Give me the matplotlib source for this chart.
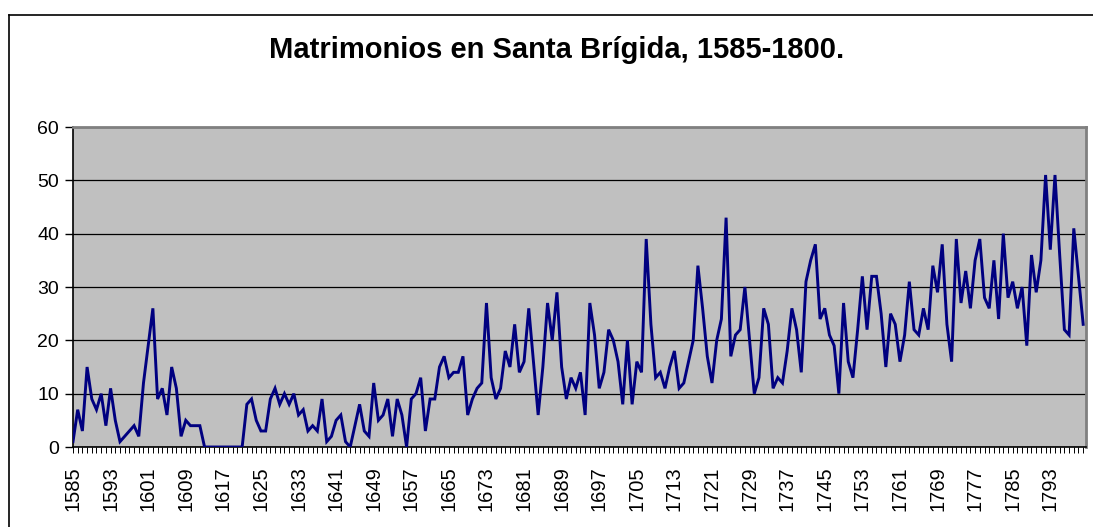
import matplotlib
matplotlib.use("Agg")
import matplotlib.pyplot as plt
from matplotlib.lines import Line2D

plt.rcParams['font.family'] = ['Liberation Sans', 'DejaVu Sans']

title = "Matrimonios en Santa Brígida, 1585-1800."
years = list(range(1585, 1801))
marriages = [
    1, 7, 3, 15, 9, 7, 10, 4, 11, 5,
    1, 2, 3, 4, 2, 12, 19, 26, 9, 11,
    6, 15, 11, 2, 5, 4, 4, 4, 0, 0,
    0, 0, 0, 0, 0, 0, 0,
    8, 9, 5, 3, 3, 9, 11, 8, 10, 8,
    10, 6, 7, 3, 4, 3, 9, 1, 2, 5,
    6, 1, 0, 4, 8, 3, 2, 12, 5, 6,
    9, 2, 9, 6, 0,
    9, 10, 13, 3, 9, 9, 15, 17, 13, 14,
    14, 17, 6, 9, 11, 12, 27, 13, 9, 11,
    18, 15, 23, 14, 16, 26, 16, 6, 15, 27,
    20, 29, 15, 9, 13, 11,
    14, 6, 27, 21, 11, 14, 22, 20, 16, 8,
    20, 8, 16, 14, 39, 23, 13, 14, 11, 15,
    18, 11, 12, 16, 20, 34, 26, 17, 12, 20,
    24, 43, 17, 21, 22, 30, 20,
    10, 13, 26, 23, 11, 13, 12, 18, 26, 22,
    14, 31, 35, 38, 24, 26, 21, 19, 10, 27,
    16, 13, 22, 32, 22, 32, 32, 25, 15, 25,
    23, 16, 21, 31, 22, 21,
    26, 22, 34, 29, 38, 23, 16, 39, 27, 33,
    26, 35, 39, 28, 26, 35, 24, 40, 28, 31,
    26, 30, 19, 36, 29, 35, 51, 37, 51, 36,
    22, 21, 41, 32, 23,
]
y_ticks = [0, 10, 20, 30, 40, 50, 60]
label_step = 8

W, H = 1093, 527
fig = plt.figure(figsize=(W / 100, H / 100), dpi=100)
fig.patch.set_facecolor('white')

# outer chart border (only top and left visible)
fig.add_artist(Line2D([8.5 / W, 8.5 / W], [0, 1 - 15 / H], color='black', lw=1.2,
                      transform=fig.transFigure))
fig.add_artist(Line2D([8.5 / W, 1], [1 - 15 / H, 1 - 15 / H], color='black', lw=1.2,
                      transform=fig.transFigure))

left, right = 73 / W, 1086 / W
bottom, top = (H - 447) / H, (H - 127) / H
ax = fig.add_axes([left, bottom, right - left, top - bottom])
ax.set_facecolor('#C0C0C0')

x = list(range(len(years)))
ax.plot(x, marriages, color='#000080', lw=2.1, solid_joinstyle='miter', zorder=3)

ax.set_xlim(0, len(years) - 1 + 0.6)
ax.set_ylim(0, 60)
ax.set_yticks(y_ticks)
ax.set_yticklabels([str(v) for v in y_ticks], fontsize=14)
ax.yaxis.grid(True, color='black', lw=0.9)
ax.set_axisbelow(True)

ax.set_xticks(x)
ax.set_xticklabels([str(yr) if i % label_step == 0 else '' for i, yr in enumerate(years)],
                   rotation=90, fontsize=14.5)
ax.tick_params(axis='x', length=4, width=0.7, pad=10)
ax.tick_params(axis='y', length=6, width=1.0, pad=4)

for s in ['left', 'bottom']:
    ax.spines[s].set_color('black')
    ax.spines[s].set_linewidth(1.2)
for s in ['top', 'right']:
    ax.spines[s].set_color('#808080')
    ax.spines[s].set_linewidth(2.0)

fig.text(557 / W, 1 - 50 / H, title, ha='center', va='center',
         fontsize=21, fontweight='bold')

fig.savefig('out.png', dpi=100)
